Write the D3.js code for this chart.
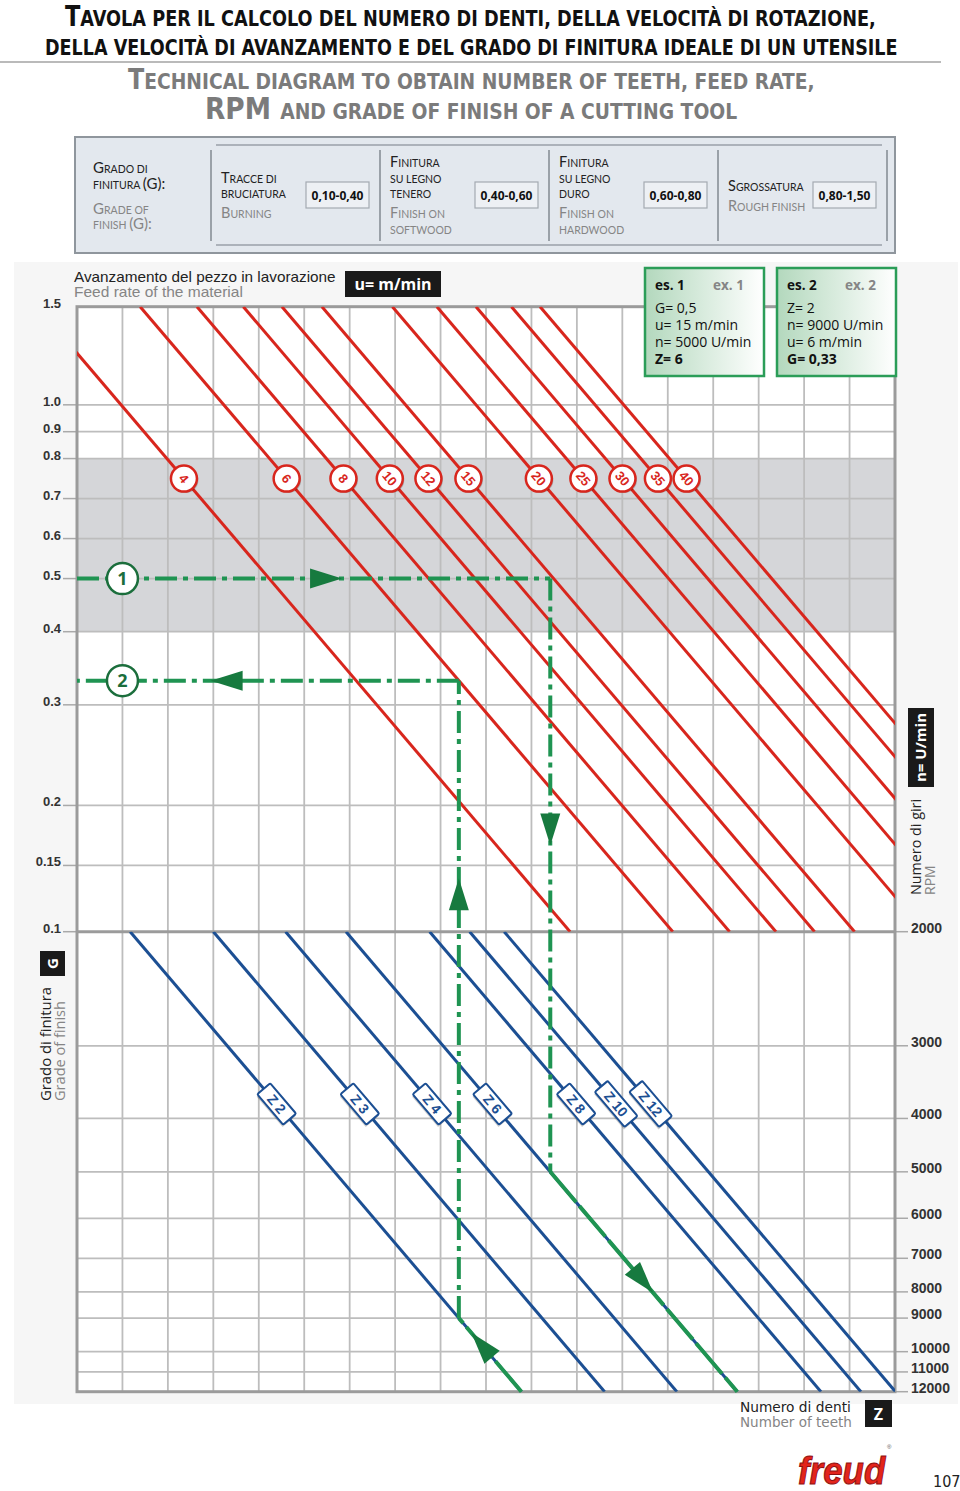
<!DOCTYPE html>
<html>
<head>
<meta charset="utf-8">
<script src="https://cdn.jsdelivr.net/npm/d3@7"></script>
<style>
  body { margin: 0; background: #fff; }
  svg { display: block; }
</style>
</head>
<body>
<svg id="chart" width="960" height="1491"></svg>
<script>
'use strict';

/* ============================================================
   Freud nomogram – teeth / RPM / feed rate / grade of finish
   ============================================================ */

// ── Data ──────────────────────────────────────────────────
// Grade of finish G (left axis, top panel). The printed scale is not
// regular, so each tick carries its place in the panel (0 = top, 1 = bottom).
const gTicks     = [1.5, 1.0, 0.9, 0.8, 0.7, 0.6, 0.5, 0.4, 0.3, 0.2, 0.15, 0.1];
const gTickFrac  = [0, 0.157, 0.200, 0.243, 0.307, 0.371, 0.435, 0.520, 0.637, 0.798, 0.894, 1];
const gLabels    = ['1.5','1.0','0.9','0.8','0.7','0.6','0.5','0.4','0.3','0.2','0.15','0.1'];
const gBand      = [0.8, 0.4];

// RPM n (right axis, bottom panel)
const nTicks     = [2000, 3000, 4000, 5000, 6000, 7000, 8000, 9000, 10000, 11000, 12000];
const nTickFrac  = [0, 0.248, 0.406, 0.522, 0.623, 0.710, 0.783, 0.840, 0.913, 0.957, 1];

// shared horizontal axis: unlabeled grid columns
const gridColumns = 18;

// feed rate lines u (m/min): grid column where each crosses G = 1.5 and G = 0.1
const feedRates    = [4, 6, 8, 10, 12, 15, 20, 25, 30, 35, 40];
const feedColTop   = [-0.87, 1.39, 2.64, 3.66, 4.51, 5.39, 6.94, 7.92, 8.78, 9.56, 10.19];
const feedColBot   = [10.85, 13.11, 14.36, 15.38, 16.23, 17.11, 18.66, 19.64, 20.50, 21.28, 21.91];
const feedLabelG   = 0.75;

// number of teeth lines Z: grid column where each crosses n = 2000 and n = 12000
const teeth        = [2, 3, 4, 6, 8, 10, 12];
const teethColTop  = [1.17, 3.00, 4.59, 5.92, 7.76, 8.64, 9.40];
const teethColBot  = [9.78, 11.61, 13.20, 14.53, 16.37, 17.25, 18.01];
const teethLabelN  = 3800;

// grade of finish table
const finishGrades = [
  { it: ['Tracce di', 'bruciatura'],          en: ['Burning'],               range: '0,10-0,40' },
  { it: ['Finitura', 'su legno', 'tenero'],   en: ['Finish on', 'softwood'], range: '0,40-0,60' },
  { it: ['Finitura', 'su legno', 'duro'],     en: ['Finish on', 'hardwood'], range: '0,60-0,80' },
  { it: ['Sgrossatura'],                      en: ['Rough finish'],          range: '0,80-1,50' }
];

// worked examples
const examples = [
  { id: 1, G: 0.5,  u: 15, n: 5000, Z: 6, given: ['G', 'u', 'n'], result: 'Z' },
  { id: 2, G: 0.33, u: 6,  n: 9000, Z: 2, given: ['Z', 'n', 'u'], result: 'G' }
];

// ── Layout ────────────────────────────────────────────────
const X0 = 77, X1 = 895, YT = 306.7, YM = 931.7, YB = 1391.7;
const C = {
  red: '#d8261d', blue: '#1c4f93', green: '#1f9452', greenDark: '#177a3f',
  grid: '#bdbdbd', frame: '#9b9b9b', band: '#d5d6d9',
  text: '#222', grey: '#858585'
};
const SANS = "'Open Sans', 'Noto Sans', sans-serif";
const ARIAL = "'Liberation Sans', Arial, sans-serif";
const NARROW = "'Liberation Sans Narrow', 'DejaVu Sans Condensed', 'Liberation Sans', sans-serif";
const TABLE = "Lato, 'Open Sans', sans-serif";

const svg = d3.select('#chart');

const x  = d3.scaleLinear().domain([0, gridColumns]).range([X0, X1]);
const yG = d3.scaleLinear().domain(gTicks).range(gTickFrac.map(f => YT + f * (YM - YT)));
const yN = d3.scaleLinear().domain(nTicks).range(nTickFrac.map(f => YM + f * (YB - YM)));

// column on a straight line given its end columns and a pixel y
function colAt(colTop, colBot, yTop, yBot, y) {
  return colTop + (y - yTop) / (yBot - yTop) * (colBot - colTop);
}
const feedCol  = (i, y) => colAt(feedColTop[i], feedColBot[i], YT, YM, y);
const teethCol = (i, y) => colAt(teethColTop[i], teethColBot[i], YM, YB, y);

// small caps: lowercase letters drawn as smaller capitals
function smallCaps(textSel, str, big, small) {
  const runs = [];
  for (const ch of str) {
    const lower = ch !== ch.toUpperCase() || ch === ',';
    const kind = ch === ' ' && runs.length ? runs[runs.length - 1].lower : lower;
    if (runs.length && runs[runs.length - 1].lower === kind) runs[runs.length - 1].s += ch;
    else runs.push({ lower: kind, s: ch });
  }
  runs.forEach(r => {
    textSel.append('tspan')
      .attr('font-size', r.lower ? small : big)
      .text(r.lower ? r.s.toUpperCase() : r.s);
  });
  return textSel;
}

// squeeze/stretch a text horizontally so that it spans `width` px from (x, y)
function fitWidth(textSel, xPos, yPos, width) {
  const w = textSel.node().getBBox().width || width;
  textSel.attr('x', 0).attr('y', 0)
    .attr('transform', `translate(${xPos},${yPos}) scale(${width / w},1)`);
  return textSel;
}

// ── Title ─────────────────────────────────────────────────
const titles = [
  { s: 'Tavola per il calcolo del numero di denti, della velocità di rotazione,', y: 26,  x0: 65,  x1: 876, c: '#111' },
  { s: 'della velocità di avanzamento e del grado di finitura ideale di un utensile', y: 55, x0: 45, x1: 898, c: '#111' },
  { s: 'Technical diagram to obtain number of teeth, feed rate,', y: 89, x0: 128, x1: 815, c: '#7b7b7b' },
  { s: 'RPM and grade of finish of a cutting tool', y: 119, x0: 205, x1: 738, c: '#7b7b7b' }
];
titles.forEach((t, i) => {
  const el = svg.append('text')
    .attr('font-family', NARROW).attr('font-weight', 'bold')
    .attr('fill', t.c);
  smallCaps(el, t.s, i === 3 ? 31 : 28, 22);
  fitWidth(el, t.x0, t.y, t.x1 - t.x0);
});
svg.append('line').attr('x1', 0).attr('x2', 941).attr('y1', 62).attr('y2', 62)
  .attr('stroke', '#a3a3a3').attr('stroke-width', 1.5);

// ── Grade table ───────────────────────────────────────────
const tbl = svg.append('g');
tbl.append('rect').attr('x', 75).attr('y', 137).attr('width', 820).attr('height', 116)
  .attr('fill', '#e3e8ee').attr('stroke', '#8f969d').attr('stroke-width', 2);
[145, 245].forEach(y => tbl.append('line')
  .attr('x1', 216).attr('x2', 882).attr('y1', y).attr('y2', y)
  .attr('stroke', '#9aa1a8').attr('stroke-width', 1.5));

const headLines = [
  { s: 'Grado di', y: 173, c: C.text }, { s: 'finitura (G):', y: 189, c: C.text },
  { s: 'Grade of', y: 214, c: C.grey }, { s: 'finish (G):', y: 229, c: C.grey }
];
headLines.forEach(l => smallCaps(
  tbl.append('text').attr('x', 93).attr('y', l.y).attr('fill', l.c).attr('font-family', TABLE),
  l.s, 15, 10.5));

const cellX = [211, 380, 549, 718, 887];
cellX.forEach(cx => tbl.append('line')
  .attr('x1', cx).attr('x2', cx).attr('y1', 150).attr('y2', 241)
  .attr('stroke', '#9aa1a8').attr('stroke-width', 2));

finishGrades.forEach((d, i) => {
  const cx = cellX[i];
  const span = (d.it.length - 1) * 15.5 + 20 + (d.en.length - 1) * 15.5;
  let y = 200.5 - span / 2;
  d.it.forEach((s, k) => {
    smallCaps(tbl.append('text').attr('x', cx + 10).attr('y', y + k * 15.5)
      .attr('fill', C.text).attr('font-family', TABLE), s, 14.5, 10.5);
  });
  y += (d.it.length - 1) * 15.5 + 20;
  d.en.forEach((s, k) => {
    smallCaps(tbl.append('text').attr('x', cx + 10).attr('y', y + k * 15.5)
      .attr('fill', C.grey).attr('font-family', TABLE), s, 14.5, 10.5);
  });
  tbl.append('rect').attr('x', cx + 95).attr('y', 182).attr('width', 63).attr('height', 26)
    .attr('fill', '#edf0f4').attr('stroke', '#a4aab1').attr('stroke-width', 1.2);
  tbl.append('text').attr('x', cx + 126.5).attr('y', 200)
    .attr('text-anchor', 'middle').attr('font-family', SANS).attr('font-weight', 'bold')
    .attr('font-size', 12).attr('fill', '#111').text(d.range);
});

// ── Chart backdrop ────────────────────────────────────────
svg.append('rect').attr('x', 14).attr('y', 262).attr('width', 944).attr('height', 1142)
  .attr('fill', '#f6f6f6');
svg.append('rect').attr('x', X0).attr('y', YT).attr('width', X1 - X0).attr('height', YB - YT)
  .attr('fill', '#fff');
svg.append('rect').attr('x', X0).attr('y', yG(gBand[0])).attr('width', X1 - X0)
  .attr('height', yG(gBand[1]) - yG(gBand[0])).attr('fill', C.band);

// grid
const grid = svg.append('g').attr('stroke', C.grid).attr('stroke-width', 1.8);
d3.range(1, gridColumns).forEach(c => grid.append('line')
  .attr('x1', x(c)).attr('x2', x(c)).attr('y1', YT).attr('y2', YB));
gTicks.slice(1, -1).forEach(v => grid.append('line')
  .attr('x1', X0).attr('x2', X1).attr('y1', yG(v)).attr('y2', yG(v)));
nTicks.slice(1, -1).forEach(v => grid.append('line')
  .attr('x1', X0).attr('x2', X1).attr('y1', yN(v)).attr('y2', yN(v)));

// axis labels left (G)
gTicks.forEach((v, i) => {
  if (i > 0) svg.append('line').attr('x1', 63).attr('x2', X0).attr('y1', yG(v)).attr('y2', yG(v))
    .attr('stroke', '#a9a9a9').attr('stroke-width', 1.5);
  svg.append('text').attr('x', 61).attr('y', yG(v) + 1)
    .attr('text-anchor', 'end').attr('font-family', ARIAL).attr('font-weight', 'bold')
    .attr('font-size', 13).attr('fill', '#333').text(gLabels[i]);
});
// axis labels right (n)
nTicks.forEach(v => {
  svg.append('line').attr('x1', X1).attr('x2', 908).attr('y1', yN(v)).attr('y2', yN(v))
    .attr('stroke', '#a9a9a9').attr('stroke-width', 1.5);
  svg.append('text').attr('x', 911).attr('y', yN(v) + 1)
    .attr('font-family', ARIAL).attr('font-weight', 'bold')
    .attr('font-size', 14).attr('fill', '#333').text(v);
});

// frame + divider
svg.append('rect').attr('x', X0).attr('y', YT).attr('width', X1 - X0).attr('height', YB - YT)
  .attr('fill', 'none').attr('stroke', C.frame).attr('stroke-width', 3);
svg.append('line').attr('x1', X0).attr('x2', X1).attr('y1', YM).attr('y2', YM)
  .attr('stroke', C.frame).attr('stroke-width', 3);

// clip paths
const defs = svg.append('defs');
defs.append('clipPath').attr('id', 'clipTop').append('rect')
  .attr('x', X0).attr('y', YT).attr('width', X1 - X0).attr('height', YM - YT);
defs.append('clipPath').attr('id', 'clipBot').append('rect')
  .attr('x', X0).attr('y', YM).attr('width', X1 - X0).attr('height', YB - YM);
const grad = defs.append('linearGradient').attr('id', 'exGrad');
grad.append('stop').attr('offset', '0%').attr('stop-color', '#b3d8bd');
grad.append('stop').attr('offset', '100%').attr('stop-color', '#ffffff');

// ── Feed rate lines (red) ─────────────────────────────────
const redG = svg.append('g').attr('clip-path', 'url(#clipTop)');
feedRates.forEach((u, i) => {
  redG.append('line')
    .attr('x1', x(feedColTop[i])).attr('y1', YT)
    .attr('x2', x(feedColBot[i])).attr('y2', YM)
    .attr('stroke', C.red).attr('stroke-width', 3);
});

// ── Teeth lines (blue) ────────────────────────────────────
const blueG = svg.append('g').attr('clip-path', 'url(#clipBot)');
teeth.forEach((z, i) => {
  blueG.append('line')
    .attr('x1', x(teethColTop[i])).attr('y1', YM)
    .attr('x2', x(teethColBot[i])).attr('y2', YB)
    .attr('stroke', C.blue).attr('stroke-width', 3);
});

// ── Example paths (green) ─────────────────────────────────
function arrowHead(p, q, t) {
  const tip = [p[0] + t * (q[0] - p[0]), p[1] + t * (q[1] - p[1])];
  const ang = Math.atan2(q[1] - p[1], q[0] - p[0]) * 180 / Math.PI;
  svg.append('path')
    .attr('d', 'M0,0 L-32,-10 L-32,10 Z')
    .attr('transform', `translate(${tip[0]},${tip[1]}) rotate(${ang})`)
    .attr('fill', C.greenDark);
}
function greenSeg(p, q, dash) {
  svg.append('line')
    .attr('x1', p[0]).attr('y1', p[1]).attr('x2', q[0]).attr('y2', q[1])
    .attr('stroke', C.green).attr('stroke-width', 4)
    .attr('stroke-dasharray', dash);
}
const DASH = '22,6,5,6';

// ex 1: G → u → n → Z
{
  const e = examples[0];
  const zi = teeth.indexOf(e.Z);
  const cv = teethCol(zi, yN(e.n));
  const p0 = [x(0), yG(e.G)], p1 = [x(cv), yG(e.G)], p2 = [x(cv), yN(e.n)];
  const p3 = [x(teethColBot[zi]), YB];
  greenSeg(p0, p1, DASH); greenSeg(p1, p2, DASH); greenSeg(p2, p3, '40,5');
  arrowHead(p0, p1, 0.56); arrowHead(p1, p2, 0.45); arrowHead(p2, p3, 0.55);
}
// ex 2: Z → n → u → G
let ex2Y;
{
  const e = examples[1];
  const zi = teeth.indexOf(e.Z), ui = feedRates.indexOf(e.u);
  const cv = teethCol(zi, yN(e.n));
  // y where the vertical meets the feed line u
  const fi = feedColTop[ui], fb = feedColBot[ui];
  ex2Y = YT + (cv - fi) / (fb - fi) * (YM - YT);
  const p0 = [x(teethColBot[zi]), YB], p1 = [x(cv), yN(e.n)], p2 = [x(cv), ex2Y], p3 = [x(0), ex2Y];
  greenSeg(p0, p1, '40,5'); greenSeg(p1, p2, DASH); greenSeg(p2, p3, DASH);
  arrowHead(p0, p1, 0.8); arrowHead(p1, p2, 0.69); arrowHead(p2, p3, 0.65);
}

// ── Line labels ───────────────────────────────────────────
const redAngle = Math.atan2(YM - YT, x(feedColBot[0]) - x(feedColTop[0])) * 180 / Math.PI;
feedRates.forEach((u, i) => {
  const cy = yG(feedLabelG), cx = x(feedCol(i, cy));
  const g = svg.append('g').attr('transform', `translate(${cx},${cy})`);
  g.append('circle').attr('cx', 1.5).attr('cy', 1.5).attr('r', 13).attr('fill', 'rgba(0,0,0,0.22)');
  g.append('circle').attr('r', 13).attr('fill', '#fff').attr('stroke', C.red).attr('stroke-width', 2.5);
  g.append('text').attr('transform', `rotate(${redAngle})`)
    .attr('text-anchor', 'middle').attr('dy', '0.36em')
    .attr('font-family', ARIAL).attr('font-weight', 'bold').attr('font-size', 13)
    .attr('fill', C.red).text(u);
});

const blueAngle = Math.atan2(YB - YM, x(teethColBot[0]) - x(teethColTop[0])) * 180 / Math.PI;
teeth.forEach((z, i) => {
  const cy = yN(teethLabelN), cx = x(teethCol(i, cy));
  const w = z >= 10 ? 46 : 40;
  const g = svg.append('g').attr('transform', `translate(${cx},${cy}) rotate(${blueAngle})`);
  g.append('rect').attr('x', -w / 2 + 1.5).attr('y', -8.5 + 2).attr('width', w).attr('height', 17)
    .attr('fill', 'rgba(0,0,0,0.2)');
  g.append('rect').attr('x', -w / 2).attr('y', -8.5).attr('width', w).attr('height', 17).attr('rx', 1.5)
    .attr('fill', '#fff').attr('stroke', C.blue).attr('stroke-width', 2);
  g.append('text').attr('text-anchor', 'middle').attr('dy', '0.36em')
    .attr('font-family', ARIAL).attr('font-weight', 'bold').attr('font-size', 14)
    .attr('fill', C.blue).text(`Z ${z}`);
});

// example markers
[[examples[0].id, yG(examples[0].G)], [examples[1].id, ex2Y]].forEach(([id, y]) => {
  svg.append('circle').attr('cx', x(1)).attr('cy', y).attr('r', 15.5)
    .attr('fill', '#fff').attr('stroke', '#1b6e3c').attr('stroke-width', 2.5);
  svg.append('text').attr('x', x(1)).attr('y', y).attr('dy', '0.36em')
    .attr('text-anchor', 'middle').attr('font-family', SANS).attr('font-weight', 'bold')
    .attr('font-size', 18).attr('fill', '#1b6e3c').text(id);
});

// ── Captions ──────────────────────────────────────────────
fitWidth(svg.append('text').attr('font-family', ARIAL).attr('font-size', 14)
  .attr('fill', C.text).text('Avanzamento del pezzo in lavorazione'), 74, 282, 262);
fitWidth(svg.append('text').attr('font-family', ARIAL).attr('font-size', 14)
  .attr('fill', C.grey).text('Feed rate of the material'), 74, 297, 169);
svg.append('rect').attr('x', 345).attr('y', 271).attr('width', 96).attr('height', 26).attr('fill', '#1a1a1a');
svg.append('text').attr('x', 393).attr('y', 290).attr('text-anchor', 'middle')
  .attr('font-family', SANS).attr('font-weight', 'bold').attr('font-size', 16)
  .attr('fill', '#fff').text('u= m/min');

// example boxes
const fmtG = v => String(v).replace('.', ',');
const exLine = (e, k) => k === 'G' ? `G= ${fmtG(e.G)}` : k === 'u' ? `u= ${e.u} m/min`
  : k === 'n' ? `n= ${e.n} U/min` : `Z= ${e.Z}`;
[645, 777].forEach((bx, i) => {
  const e = examples[i];
  const g = svg.append('g').attr('transform', `translate(${bx},268)`);
  g.append('rect').attr('width', 119).attr('height', 108)
    .attr('fill', 'url(#exGrad)').attr('stroke', '#2b9d58').attr('stroke-width', 2.5);
  g.append('text').attr('x', 10).attr('y', 22).attr('font-family', SANS).attr('font-weight', 'bold')
    .attr('font-size', 13.5).attr('fill', '#111').text(`es. ${e.id}`);
  g.append('text').attr('x', 68).attr('y', 22).attr('font-family', SANS).attr('font-weight', 'bold')
    .attr('font-size', 13.5).attr('fill', C.grey).text(`ex. ${e.id}`);
  e.given.concat(e.result).forEach((k, j) => {
    g.append('text').attr('x', 10).attr('y', 45 + j * 17)
      .attr('font-family', SANS).attr('font-size', 14)
      .attr('font-weight', k === e.result ? 'bold' : 'normal')
      .attr('fill', '#111').text(exLine(e, k));
  });
});

// left vertical caption
svg.append('rect').attr('x', 40).attr('y', 951).attr('width', 25).attr('height', 25).attr('fill', '#1a1a1a');
svg.append('text').attr('transform', 'translate(52.5,963.5) rotate(-90)').attr('text-anchor', 'middle')
  .attr('dy', '0.36em').attr('font-family', SANS).attr('font-weight', 'bold').attr('font-size', 15)
  .attr('fill', '#fff').text('G');
svg.append('text').attr('transform', 'translate(51,1101) rotate(-90)')
  .attr('font-family', SANS).attr('font-size', 14.5).attr('fill', C.text)
  .attr('textLength', 114).attr('lengthAdjust', 'spacingAndGlyphs').text('Grado di finitura');
svg.append('text').attr('transform', 'translate(65,1101) rotate(-90)')
  .attr('font-family', SANS).attr('font-size', 14.5).attr('fill', C.grey)
  .attr('textLength', 100).attr('lengthAdjust', 'spacingAndGlyphs').text('Grade of finish');

// right vertical caption
svg.append('rect').attr('x', 908).attr('y', 708).attr('width', 26).attr('height', 79).attr('fill', '#1a1a1a');
svg.append('text').attr('transform', 'translate(921,747.5) rotate(-90)').attr('text-anchor', 'middle')
  .attr('dy', '0.36em').attr('font-family', SANS).attr('font-weight', 'bold').attr('font-size', 15)
  .attr('fill', '#fff').text('n= U/min');
svg.append('text').attr('transform', 'translate(921,895) rotate(-90)')
  .attr('font-family', SANS).attr('font-size', 14).attr('fill', C.text)
  .attr('textLength', 96).attr('lengthAdjust', 'spacingAndGlyphs').text('Numero di giri');
svg.append('text').attr('transform', 'translate(935,895) rotate(-90)')
  .attr('font-family', SANS).attr('font-size', 14).attr('fill', C.grey).text('RPM');

// bottom caption
fitWidth(svg.append('text').attr('font-family', NARROW).attr('font-size', 14.5)
  .attr('fill', C.text).text('Numero di denti'), 740, 1412, 111);
fitWidth(svg.append('text').attr('font-family', NARROW).attr('font-size', 14.5)
  .attr('fill', C.grey).text('Number of teeth'), 740, 1427, 112);
svg.append('rect').attr('x', 865).attr('y', 1400).attr('width', 27).attr('height', 27).attr('fill', '#1a1a1a');
svg.append('text').attr('x', 878.5).attr('y', 1414).attr('dy', '0.36em').attr('text-anchor', 'middle')
  .attr('font-family', SANS).attr('font-weight', 'bold').attr('font-size', 16)
  .attr('fill', '#fff').text('Z');

// logo + page number
fitWidth(svg.append('text')
  .attr('font-family', ARIAL).attr('font-weight', 'bold').attr('font-style', 'italic')
  .attr('font-size', 38).attr('fill', '#e3241b').attr('stroke', '#8e1010').attr('stroke-width', 1)
  .text('freud'), 798, 1484, 88);
svg.append('text').attr('x', 887).attr('y', 1449).attr('font-family', ARIAL).attr('font-size', 6)
  .attr('fill', '#555').text('®');
svg.append('text').attr('x', 933).attr('y', 1487).attr('font-family', NARROW).attr('font-size', 16)
  .attr('fill', '#222').text('107');
</script>
</body>
</html>
